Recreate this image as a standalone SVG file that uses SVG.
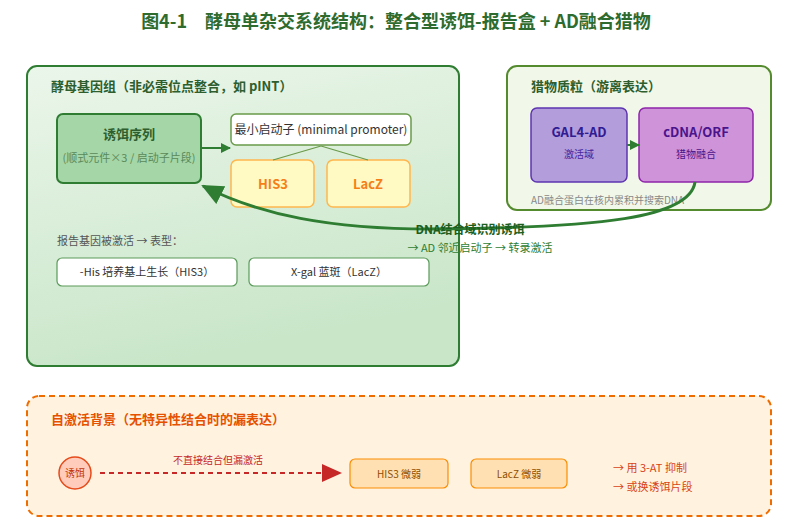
<svg xmlns="http://www.w3.org/2000/svg" width="792" height="530" viewBox="0 0 792 530">
<style>
text{font-family:"Noto Sans CJK SC","Liberation Sans",sans-serif}
.b{font-weight:bold}
.c{text-anchor:middle}
</style>
<defs>
<linearGradient id="g1" x1="0" y1="0" x2="0.3" y2="1"><stop offset="0" stop-color="#ebf6ea"/><stop offset="1" stop-color="#c9e6c9"/></linearGradient>
<marker id="ag" markerWidth="10" markerHeight="10" refX="9" refY="5" orient="auto" markerUnits="userSpaceOnUse"><path d="M0,0L10,5L0,10z" fill="#2e7d32"/></marker>
<marker id="agb" markerWidth="24" markerHeight="20" refX="20" refY="10" orient="auto" markerUnits="userSpaceOnUse"><path d="M0,0L22,10L0,20z" fill="#2e7d32"/></marker>
<marker id="ar" markerWidth="20" markerHeight="18" refX="18" refY="9" orient="auto" markerUnits="userSpaceOnUse"><path d="M0,0L20,9L0,18z" fill="#c62828"/></marker>
</defs>
<rect width="792" height="530" fill="#fff"/>
<text x="396" y="28" class="b c" font-size="18" fill="#2e6b2e">图4-1　酵母单杂交系统结构：整合型诱饵-报告盒 + AD融合猎物</text>

<g id="genome">
<rect x="27" y="66" width="432" height="300" rx="10" fill="url(#g1)" stroke="#2e7d32" stroke-width="2"/>
<text x="51" y="91" class="b" font-size="13" fill="#2e5e2e">酵母基因组（非必需位点整合，如 pINT）</text>
</g>
<g id="bait">
<rect x="57" y="114" width="144" height="69" rx="6" fill="#a5d6a7" stroke="#2e7d32" stroke-width="2"/>
<text x="129" y="139" class="b c" font-size="13" fill="#2e5e2e">诱饵序列</text>
<text x="129" y="162" class="c" font-size="11" fill="#5a8a5a">(顺式元件×3 / 启动子片段)</text>
</g>
<g id="minprom">
<rect x="231" y="114" width="180" height="31" rx="5" fill="#fff" stroke="#6a9a4a" stroke-width="1.5"/>
<text x="321" y="134" class="c" font-size="12" fill="#333">最小启动子 (minimal promoter)</text>
</g>
<g id="his3">
<rect x="231" y="160" width="83" height="47" rx="6" fill="#fff9c4" stroke="#ffb74d" stroke-width="1.5"/>
<text x="273" y="189" class="b c" font-size="13" fill="#f57f17">HIS3</text>
</g>
<g id="lacz">
<rect x="327" y="160" width="83" height="47" rx="6" fill="#fff9c4" stroke="#ffb74d" stroke-width="1.5"/>
<text x="368" y="189" class="b c" font-size="13" fill="#f57f17">LacZ</text>
</g>
<text x="57" y="245" font-size="11" fill="#555">报告基因被激活 → 表型：</text>
<g id="ph1">
<rect x="57" y="258" width="180" height="28" rx="5" fill="#fff" stroke="#5a9a5a" stroke-width="1.2"/>
<text x="147" y="276" class="c" font-size="11" fill="#333">-His 培养基上生长（HIS3）</text>
</g>
<g id="ph2">
<rect x="249" y="258" width="180" height="28" rx="5" fill="#fff" stroke="#5a9a5a" stroke-width="1.2"/>
<text x="339" y="276" class="c" font-size="11" fill="#333">X-gal 蓝斑（LacZ）</text>
</g>

<g id="prey">
<rect x="507" y="66" width="264" height="144" rx="10" fill="#f1f8e9" stroke="#558b2f" stroke-width="2"/>
<text x="531" y="91" class="b" font-size="13" fill="#2e5e2e">猎物质粒（游离表达）</text>
<text x="531" y="204" font-size="10" fill="#888">AD融合蛋白在核内累积并搜索DNA</text>
</g>
<g id="gal4ad">
<rect x="531" y="108" width="96" height="74" rx="6" fill="#b39ddb" stroke="#5e35b1" stroke-width="1.5"/>
<text x="579" y="137" class="b c" font-size="13" fill="#311b92">GAL4-AD</text>
<text x="579" y="158" class="c" font-size="10" fill="#4527a0">激活域</text>
</g>
<g id="cdna">
<rect x="639" y="108" width="114" height="74" rx="6" fill="#ce93d8" stroke="#8e24aa" stroke-width="1.5"/>
<text x="696" y="137" class="b c" font-size="13" fill="#4a148c">cDNA/ORF</text>
<text x="696" y="158" class="c" font-size="10" fill="#4a148c">猎物融合</text>
</g>

<g id="auto">
<rect x="27" y="396" width="744" height="120" rx="12" fill="#fff3e0" stroke="#ef6c00" stroke-width="2" stroke-dasharray="6,4"/>
<text x="51" y="424" class="b" font-size="13" fill="#e65100">自激活背景（无特异性结合时的漏表达）</text>
<text x="613" y="472" font-size="11" fill="#d84315">→ 用 3-AT 抑制</text>
<text x="613" y="491" font-size="11" fill="#d84315">→ 或换诱饵片段</text>
</g>
<g id="bait2">
<circle cx="75" cy="473" r="16" fill="#ffccbc" stroke="#e64a19" stroke-width="1.5"/>
<text x="75" y="477" class="c" font-size="10" fill="#bf360c">诱饵</text>
</g>
<g id="his3w">
<rect x="350" y="459" width="98" height="29" rx="5" fill="#ffe0b2" stroke="#fb8c00" stroke-width="1.2"/>
<text x="399" y="478" class="c" font-size="10" fill="#8d4e00">HIS3 微弱</text>
</g>
<g id="laczw">
<rect x="471" y="459" width="96" height="29" rx="5" fill="#ffe0b2" stroke="#fb8c00" stroke-width="1.2"/>
<text x="519" y="478" class="c" font-size="10" fill="#8d4e00">LacZ 微弱</text>
</g>

<g id="connectors">
<line x1="201" y1="148" x2="230" y2="148" stroke="#2e7d32" stroke-width="2" marker-end="url(#ag)"/>
<line x1="273" y1="160" x2="321" y2="146" stroke="#6a9a4a" stroke-width="1.2"/>
<line x1="368" y1="160" x2="321" y2="146" stroke="#6a9a4a" stroke-width="1.2"/>
<line x1="627" y1="145" x2="639" y2="145" stroke="#2e7d32" stroke-width="2" marker-end="url(#ag)"/>
<path d="M695,182 C690,218 600,228 430,229 C330,229 260,215 203,186" fill="none" stroke="#2e7d32" stroke-width="3" marker-end="url(#agb)"/>
<text x="470" y="234" class="b c" font-size="12" fill="#1b5e20">DNA结合域识别诱饵</text>
<text x="480" y="252" class="c" font-size="11" fill="#2e7d32">→ AD 邻近启动子 → 转录激活</text>
<line x1="100" y1="473" x2="340" y2="473" stroke="#c62828" stroke-width="2" stroke-dasharray="5,4" marker-end="url(#ar)"/>
<text x="218" y="464" class="c" font-size="10" fill="#c62828">不直接结合但漏激活</text>
</g>
</svg>
